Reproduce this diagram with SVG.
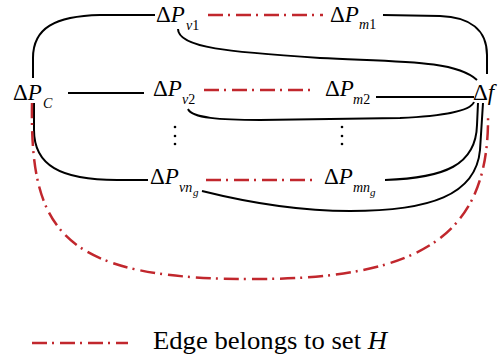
<svg xmlns="http://www.w3.org/2000/svg" width="498" height="360" viewBox="0 0 498 360">
<style>
.lbl{font-family:"Liberation Serif","Times New Roman",serif;font-size:23px;fill:#000}
.it{font-style:italic}
.sub{font-family:"Liberation Serif","Times New Roman",serif;font-size:14px;fill:#000}
.ssub{font-family:"Liberation Serif","Times New Roman",serif;font-size:11px;font-style:italic;fill:#000}
.blk{fill:none;stroke:#000;stroke-width:2}
.red{fill:none;stroke:#c1272d;stroke-width:2.5;stroke-dasharray:15 5 2 6}
.leg{font-family:"Liberation Serif","Times New Roman",serif;font-size:25px;fill:#000}
</style>
<rect width="498" height="360" fill="#fff"/>
<g id="connectors">
<path class="blk" d="M33,78 L33,58 C33,28 55,16 100,15 L155,15"/>
<path class="red" d="M208,15 L323,15"/>
<path class="blk" d="M383,15 L440,16 C470,17 487,30 487,55 L487,74"/>
<path class="blk" d="M178,29 C178,48 230,52 320,58 C400,62 455,60 477,80"/>
<path class="blk" d="M68,93 L144,93"/>
<path class="red" d="M204,90 L316,90"/>
<path class="blk" d="M376,97 L474,97"/>
<path class="blk" d="M188,109 C192,118 220,120 260,120 L400,118 C440,116 470,112 474,102"/>
<path class="blk" d="M34,103 L34,130 C34,165 60,180 117,180 L148,180"/>
<path class="red" d="M206,180 L318,180"/>
<path class="blk" d="M385,180 C445,178 476,165 477,125 L478,103"/>
<path class="blk" d="M202,191 C250,203 300,211 350,211 C430,211 476,195 480,150 L483,103"/>
<path class="red" d="M32,103 C30,230 60,279 250,279 C430,280 490,230 488,113"/>
</g>
<g id="node-PC"><text class="lbl" x="13" y="100">Δ<tspan class="it">P</tspan></text><text class="sub it" x="43" y="108">C</text></g>
<g id="node-Pv1"><text class="lbl" x="156" y="22">Δ<tspan class="it">P</tspan></text><text class="sub" x="186" y="30"><tspan class="it">v</tspan>1</text></g>
<g id="node-Pm1"><text class="lbl" x="330" y="22">Δ<tspan class="it">P</tspan></text><text class="sub" x="359" y="29"><tspan class="it">m</tspan>1</text></g>
<g id="node-Pv2"><text class="lbl" x="153" y="96">Δ<tspan class="it">P</tspan></text><text class="sub" x="182" y="104"><tspan class="it">v</tspan>2</text></g>
<g id="node-Pm2"><text class="lbl" x="325" y="96">Δ<tspan class="it">P</tspan></text><text class="sub" x="353" y="104"><tspan class="it">m</tspan>2</text></g>
<g id="node-Pvng"><text class="lbl" x="150" y="184">Δ<tspan class="it">P</tspan></text><text class="sub it" x="179" y="192">vn</text><text class="ssub" x="193" y="196">g</text></g>
<g id="node-Pmng"><text class="lbl" x="324" y="184">Δ<tspan class="it">P</tspan></text><text class="sub it" x="353" y="192">mn</text><text class="ssub" x="370" y="196">g</text></g>
<g id="node-f"><text class="lbl" x="473" y="100">Δ<tspan class="it">f</tspan></text></g>
<g id="dots">
<circle cx="175" cy="127" r="1.3"/><circle cx="175" cy="136" r="1.3"/><circle cx="175" cy="144" r="1.3"/>
<circle cx="342" cy="127" r="1.3"/><circle cx="342" cy="136" r="1.3"/><circle cx="342" cy="144" r="1.3"/>
</g>
<g id="legend">
<path class="red" d="M32,343 L128,343"/>
<text class="leg" x="153" y="349" textLength="234" lengthAdjust="spacingAndGlyphs">Edge belongs to set <tspan class="it">H</tspan></text>
</g>
</svg>
